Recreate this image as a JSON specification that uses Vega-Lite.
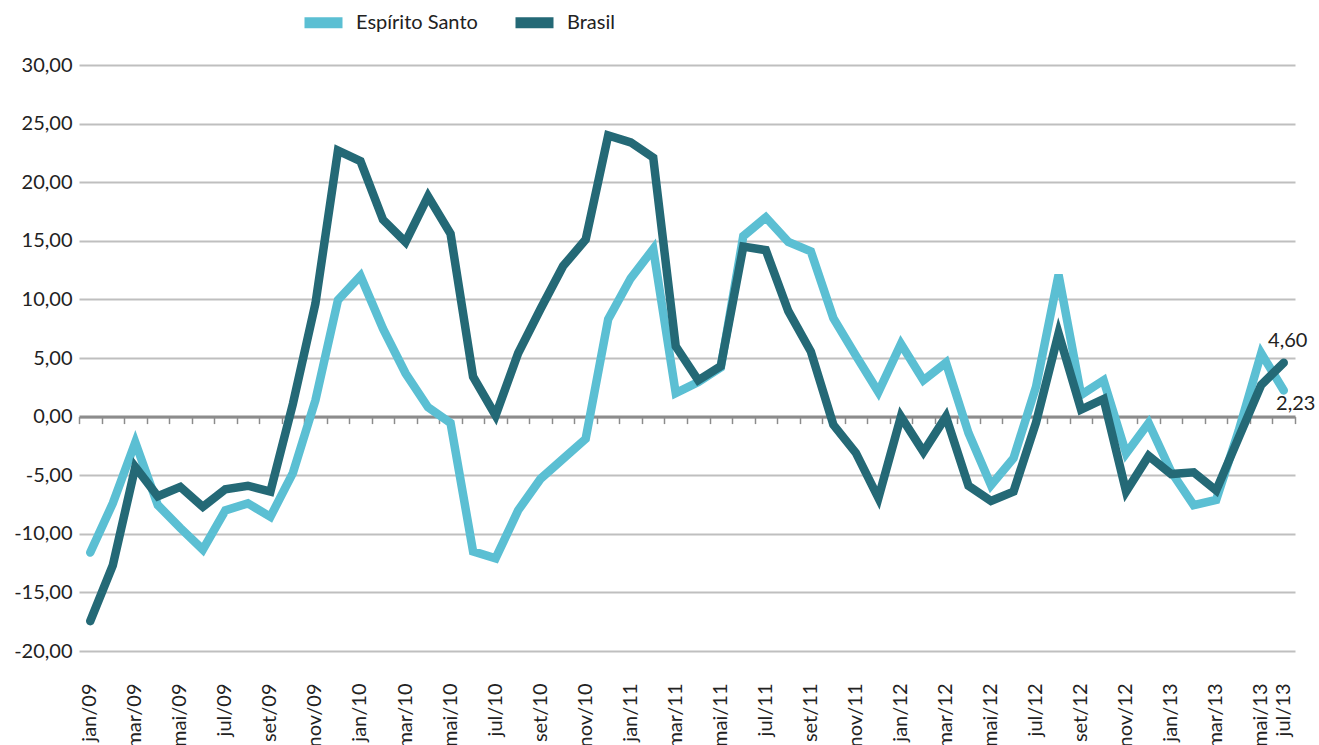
{
  "$schema": "https://vega.github.io/schema/vega-lite/v6.json",
  "width": 1216,
  "height": 586,
  "autosize": {"type": "none"},
  "padding": {"left": 79, "top": 65, "right": 24, "bottom": 94},
  "config": {
    "locale": {"number": {"decimal": ",", "thousands": ".", "grouping": [3], "currency": ["R$ ", ""], "minus": "-"}},
    "view": {"stroke": null},
    "font": "Lato",
    "axis": {"labelFont": "Lato", "labelColor": "#222222", "labelFontSize": 20}
  },
  "data": {"values": [
    {"mes": "jan/09", "Espírito Santo": -11.6, "Brasil": -17.45},
    {"mes": "fev/09", "Espírito Santo": -7.4, "Brasil": -12.7},
    {"mes": "mar/09", "Espírito Santo": -2.2, "Brasil": -4.3},
    {"mes": "abr/09", "Espírito Santo": -7.55, "Brasil": -6.8},
    {"mes": "mai/09", "Espírito Santo": -9.5, "Brasil": -6.0},
    {"mes": "jun/09", "Espírito Santo": -11.35, "Brasil": -7.7},
    {"mes": "jul/09", "Espírito Santo": -8.0, "Brasil": -6.2},
    {"mes": "ago/09", "Espírito Santo": -7.4, "Brasil": -5.9},
    {"mes": "set/09", "Espírito Santo": -8.55, "Brasil": -6.4},
    {"mes": "out/09", "Espírito Santo": -4.8, "Brasil": 1.1},
    {"mes": "nov/09", "Espírito Santo": 1.4, "Brasil": 9.65},
    {"mes": "dez/09", "Espírito Santo": 9.95, "Brasil": 22.7},
    {"mes": "jan/10", "Espírito Santo": 12.0, "Brasil": 21.8},
    {"mes": "fev/10", "Espírito Santo": 7.5, "Brasil": 16.8},
    {"mes": "mar/10", "Espírito Santo": 3.7, "Brasil": 14.9},
    {"mes": "abr/10", "Espírito Santo": 0.8, "Brasil": 18.8},
    {"mes": "mai/10", "Espírito Santo": -0.55, "Brasil": 15.6},
    {"mes": "jun/10", "Espírito Santo": -11.5, "Brasil": 3.4},
    {"mes": "jul/10", "Espírito Santo": -12.1, "Brasil": 0.1},
    {"mes": "ago/10", "Espírito Santo": -8.0, "Brasil": 5.4},
    {"mes": "set/10", "Espírito Santo": -5.3, "Brasil": 9.2},
    {"mes": "out/10", "Espírito Santo": -3.6, "Brasil": 12.85},
    {"mes": "nov/10", "Espírito Santo": -1.9, "Brasil": 15.1},
    {"mes": "dez/10", "Espírito Santo": 8.3, "Brasil": 24.0},
    {"mes": "jan/11", "Espírito Santo": 11.8, "Brasil": 23.4},
    {"mes": "fev/11", "Espírito Santo": 14.3, "Brasil": 22.1},
    {"mes": "mar/11", "Espírito Santo": 2.0, "Brasil": 6.0},
    {"mes": "abr/11", "Espírito Santo": 2.95, "Brasil": 3.1},
    {"mes": "mai/11", "Espírito Santo": 4.2, "Brasil": 4.3},
    {"mes": "jun/11", "Espírito Santo": 15.4, "Brasil": 14.5},
    {"mes": "jul/11", "Espírito Santo": 17.0, "Brasil": 14.2},
    {"mes": "ago/11", "Espírito Santo": 14.9, "Brasil": 9.0},
    {"mes": "set/11", "Espírito Santo": 14.1, "Brasil": 5.55},
    {"mes": "out/11", "Espírito Santo": 8.4, "Brasil": -0.7},
    {"mes": "nov/11", "Espírito Santo": 5.2, "Brasil": -3.1},
    {"mes": "dez/11", "Espírito Santo": 2.1, "Brasil": -6.95},
    {"mes": "jan/12", "Espírito Santo": 6.2, "Brasil": 0.0},
    {"mes": "fev/12", "Espírito Santo": 3.1, "Brasil": -3.0},
    {"mes": "mar/12", "Espírito Santo": 4.6, "Brasil": 0.0},
    {"mes": "abr/12", "Espírito Santo": -1.4, "Brasil": -5.9},
    {"mes": "mai/12", "Espírito Santo": -5.85, "Brasil": -7.2},
    {"mes": "jun/12", "Espírito Santo": -3.55, "Brasil": -6.4},
    {"mes": "jul/12", "Espírito Santo": 2.55, "Brasil": -0.5},
    {"mes": "ago/12", "Espírito Santo": 12.1, "Brasil": 7.1},
    {"mes": "set/12", "Espírito Santo": 1.85, "Brasil": 0.6},
    {"mes": "out/12", "Espírito Santo": 3.1, "Brasil": 1.5},
    {"mes": "nov/12", "Espírito Santo": -3.15, "Brasil": -6.4},
    {"mes": "dez/12", "Espírito Santo": -0.55, "Brasil": -3.35},
    {"mes": "jan/13", "Espírito Santo": -4.7, "Brasil": -4.9},
    {"mes": "fev/13", "Espírito Santo": -7.55, "Brasil": -4.75},
    {"mes": "mar/13", "Espírito Santo": -7.1, "Brasil": -6.3},
    {"mes": "abr/13", "Espírito Santo": -1.2, "Brasil": -1.8},
    {"mes": "mai/13", "Espírito Santo": 5.4, "Brasil": 2.7},
    {"mes": "jul/13", "Espírito Santo": 2.23, "Brasil": 4.6}
  ]},
  "transform": [{"fold": ["Espírito Santo", "Brasil"], "as": ["serie", "v"]}],
  "encoding": {
    "y": {
      "field": "v",
      "type": "quantitative",
      "scale": {"domain": [-20, 30], "nice": false, "zero": false},
      "axis": {
        "values": [-20, -15, -10, -5, 0, 5, 10, 15, 20, 25, 30],
        "format": ".2f",
        "title": null,
        "domain": false,
        "ticks": false,
        "labelPadding": 7,
        "gridColor": "#BFBFBF",
        "gridWidth": 2
      }
    }
  },
  "layer": [
    {
      "mark": {"type": "line", "strokeWidth": 8.5, "strokeCap": "round", "strokeJoin": "miter"},
      "encoding": {
        "x": {
          "field": "mes",
          "type": "ordinal",
          "sort": null,
          "bandPosition": 0.5,
          "scale": {"type": "band", "paddingInner": 0, "paddingOuter": 0},
          "axis": {
            "orient": "bottom",
            "values": ["jan/09", "mar/09", "mai/09", "jul/09", "set/09", "nov/09", "jan/10", "mar/10", "mai/10", "jul/10", "set/10", "nov/10", "jan/11", "mar/11", "mai/11", "jul/11", "set/11", "nov/11", "jan/12", "mar/12", "mai/12", "jul/12", "set/12", "nov/12", "jan/13", "mar/13", "mai/13", "jul/13"],
            "labelAngle": -90,
            "ticks": false,
            "domain": false,
            "grid": false,
            "labelPadding": 32,
            "title": null
          }
        },
        "color": {
          "field": "serie",
          "type": "nominal",
          "scale": {"domain": ["Espírito Santo", "Brasil"], "range": ["#5BBFD3", "#246976"]},
          "legend": {
            "orient": "none",
            "legendX": 220,
            "legendY": -67,
            "direction": "horizontal",
            "title": null,
            "symbolType": "stroke",
            "symbolStrokeWidth": 11,
            "symbolSize": 1444,
            "labelFontSize": 20,
            "labelFont": "Lato",
            "labelColor": "#222222",
            "columnPadding": 15,
            "labelOffset": 8,
            "padding": 0
          }
        }
      }
    },
    {
      "transform": [{"filter": "datum.mes === 'jul/13' && datum.serie === 'Brasil'"}],
      "mark": {"type": "text", "fontSize": 20, "color": "#222222", "font": "Lato", "align": "center", "baseline": "middle", "dx": 4, "dy": -22},
      "encoding": {
        "x": {
          "field": "mes",
          "type": "ordinal",
          "sort": null,
          "bandPosition": 0.5,
          "axis": {
            "orient": "bottom",
            "labels": false,
            "title": null,
            "grid": false,
            "offset": -234.4,
            "domain": true,
            "domainColor": "#8C8C8C",
            "domainWidth": 3,
            "ticks": true,
            "tickBand": "extent",
            "tickColor": "#8C8C8C",
            "tickWidth": 1.5,
            "tickSize": 7
          }
        },
        "text": {"field": "v", "type": "quantitative", "format": ".2f"}
      }
    },
    {
      "transform": [{"filter": "datum.mes === 'jul/13' && datum.serie === 'Espírito Santo'"}],
      "mark": {"type": "text", "fontSize": 20, "color": "#222222", "font": "Lato", "align": "center", "baseline": "middle", "dx": 12, "dy": 14},
      "encoding": {
        "x": {"field": "mes", "type": "ordinal", "sort": null, "bandPosition": 0.5, "axis": null},
        "text": {"field": "v", "type": "quantitative", "format": ".2f"}
      }
    }
  ],
  "resolve": {"axis": {"x": "independent"}}
}
